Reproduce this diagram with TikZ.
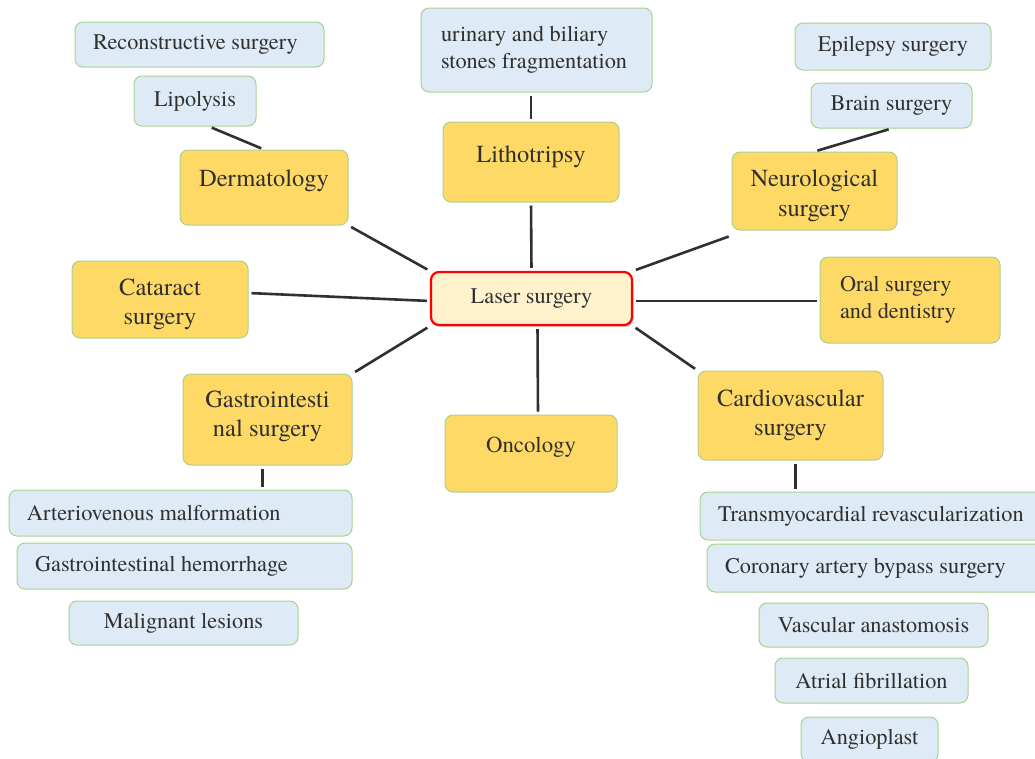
\documentclass[tikz,border=0pt]{standalone}
\usepackage{fontspec}
\setmainfont{TeX Gyre Termes}
\usetikzlibrary{shadows}
\definecolor{yfill}{HTML}{FFD966}
\definecolor{bfill}{HTML}{DEEAF6}
\definecolor{gedge}{HTML}{A9D18E}
\definecolor{lfill}{HTML}{FFF2CC}
\definecolor{txt}{HTML}{303030}
\definecolor{lnc}{HTML}{303030}
\tikzset{
  base/.style={rectangle, rounded corners=8pt, draw=gedge, line width=1pt, inner sep=0pt, text=txt},
  ybox/.style={base, fill=yfill, font=\fontsize{24.5}{29.5}\selectfont, align=center},
  bbox/.style={base, fill=bfill, font=\fontsize{22.3}{27}\selectfont, align=center},
  lbox/.style={align=flush left, inner xsep=#1, inner ysep=0pt},
  raised/.style={text height=16pt, text depth=#1},
  conn/.style={draw=lnc, line width=2.6pt, shorten <=3pt, shorten >=3pt},
}
\newcommand{\topstrut}{\rule{0pt}{26.5pt}}
\newcommand{\botstrut}{\rule[-11.5pt]{0pt}{0pt}}
\begin{document}
\begin{tikzpicture}[x=1pt,y=-1pt]
\useasboundingbox (0,0) rectangle (1035,758);
% centre
\node[base, draw=red, line width=2.2pt, fill=lfill, font=\fontsize{22.3}{27}\selectfont,
  minimum width=201, minimum height=53,
  drop shadow={shadow xshift=1.5pt, shadow yshift=-2pt, opacity=0.35, fill=black!60}]
  (laser) at (531.5,298.5) {Laser surgery};
% yellow categories
\node[ybox, raised=19pt, minimum width=168, minimum height=75] (derm) at (264,187.5) {Dermatology};
\node[ybox, raised=15pt, minimum width=176, minimum height=80] (lith) at (531,162) {Lithotripsy};
\node[ybox, minimum width=165, minimum height=78] (neuro) at (814.5,191) {\topstrut Neurological\\surgery};
\node[ybox, minimum width=176, minimum height=77] (cat) at (160,299.5) {\topstrut Cataract\\surgery};
\node[ybox, lbox=20pt, text width=140pt, minimum height=86, font=\fontsize{22.3}{27}\selectfont] (oral) at (910,300) {Oral surgery\\and dentistry};
\node[ybox, minimum width=169, minimum height=91] (gastro) at (267.5,419.5) {Gastrointesti\\nal surgery\botstrut};
\node[ybox, raised=18pt, minimum width=172, minimum height=77, font=\fontsize{22.8}{27}\selectfont] (onc) at (531,453.5) {Oncology};
\node[ybox, minimum width=185, minimum height=89] (cardio) at (790.5,415.5) {Cardiovascular\\surgery};
% blue items
\node[bbox, minimum width=249, minimum height=45] (recon) at (199.5,44.5) {Reconstructive surgery\hspace{8pt}};
\node[bbox, minimum width=122, minimum height=50] (lipo) at (195,101) {Lipolysis};
\node[bbox, lbox=20pt, text width=191pt, minimum height=84] (urin) at (536.5,50) {urinary and biliary\\stones fragmentation};
\node[bbox, minimum width=196, minimum height=47] (epi) at (893,46.5) {Epilepsy surgery};
\node[bbox, minimum width=161, minimum height=45] (brain) at (891.5,105.5) {Brain surgery};
\node[bbox, lbox=18pt, text width=307pt, minimum height=46] (arterio) at (180.5,513) {Arteriovenous malformation};
\node[bbox, lbox=18pt, text width=299pt, minimum height=46] (gih) at (184.5,566) {Gastrointestinal hemorrhage};
\node[bbox, minimum width=229, minimum height=44] (malig) at (183.5,623) {Malignant lesions};
\node[bbox, lbox=18pt, text width=330pt, minimum height=48] (trans) at (883,516) {Transmyocardial revascularization};
\node[bbox, lbox=18pt, text width=310pt, minimum height=48] (coro) at (880,568) {Coronary artery bypass surgery};
\node[bbox, minimum width=229, minimum height=44] (vasc) at (873.5,625) {Vascular anastomosis};
\node[bbox, minimum width=193, minimum height=45] (atrial) at (871.5,680.5) {Atrial fibrillation};
\node[bbox, minimum width=137, minimum height=45] (angio) at (869.5,739.5) {Angioplast};
% connectors from centre
\path[conn] (laser.north west) -- (derm.south east);
\path[conn] (laser.north) -- (lith.south);
\path[conn] (laser.north east) -- ([yshift=-5pt]neuro.south west);
\path[conn] ([yshift=-2.5pt]laser.west) -- ([yshift=6.5pt]cat.east);
\path[conn] ([yshift=-2.5pt]laser.east) -- ([yshift=-1pt]oral.west);
\path[conn] (laser.south west) -- (gastro.north east);
\path[conn] ([xshift=6pt]laser.south) -- ([xshift=7pt]onc.north);
\path[conn] (laser.south east) -- (cardio.north west);
% sub connectors
\path[conn] (lith.north) -- (lith.north |- urin.south);
\path[conn] ([xshift=14pt]lipo.south) -- (derm.north);
\path[conn] (brain.south) -- (neuro.north);
\path[conn] ([xshift=-5pt]gastro.south) -- ([xshift=-5pt]gastro.south |- arterio.north);
\path[conn] ([xshift=5pt]cardio.south) -- ([xshift=5pt]cardio.south |- trans.north);
\end{tikzpicture}
\end{document}
